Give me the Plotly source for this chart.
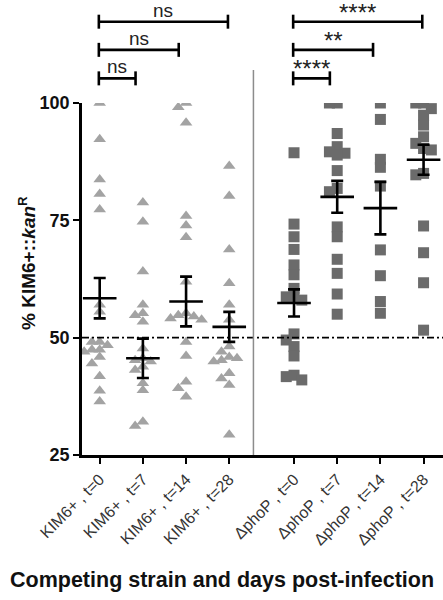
import plotly.graph_objects as go

# ---------------- data ----------------
categories = ["KIM6+ , t=0", "KIM6+ , t=7", "KIM6+ , t=14", "KIM6+ , t=28",
              "\u0394phoP , t=0", "\u0394phoP , t=7", "\u0394phoP , t=14", "\u0394phoP , t=28"]

kim_t0 = [100, 92.3, 83.7, 80.6, 77.3, 57.0, 55.5, 49.1, 49.1, 48.4, 47.4, 47.0, 47.4, 45.9, 44.5, 41.8, 38.7, 36.4]
kim_t7 = [78.8, 74.7, 64.1, 57.0, 55.2, 54.8, 53.4, 47.7, 45.6, 45.2, 44.9, 43.8, 43.1, 40.3, 38.8, 32.1, 31.2]
kim_t14 = [100, 99.1, 95.8, 75.9, 73.9, 71.4, 61.9, 55.2, 54.8, 54.5, 54.1, 53.8, 49.1, 46.1, 40.6, 39.2, 37.4]
kim_t28 = [86.6, 80.2, 68.8, 61.6, 57.0, 53.8, 48.1, 47.0, 45.9, 45.6, 45.2, 44.9, 42.4, 41.3, 39.9, 29.3]
pho_t0 = [89.4, 74.2, 71.5, 68.8, 65.5, 63.4, 60.5, 58.7, 58.7, 58.0, 50.8, 49.5, 48.1, 46.1, 42.0, 41.7, 41.0]
pho_t7 = [100, 100, 93.5, 90.7, 89.3, 89.6, 88.9, 85.6, 81.8, 81.1, 73.6, 71.5, 66.7, 63.7, 59.3, 55.0]
pho_t14 = [100, 96.5, 88.0, 86.3, 82.3, 68.7, 63.2, 57.7, 55.2]
pho_t28 = [100, 100, 98.8, 97.4, 95.3, 92.8, 91.4, 90.0, 90.3, 84.7, 85.0, 73.8, 68.1, 61.7, 51.6]

series = [kim_t0, kim_t7, kim_t14, kim_t28, pho_t0, pho_t7, pho_t14, pho_t28]

means = [58.4, 45.6, 57.7, 52.3, 57.4, 80.0, 77.6, 87.9]
sems = [4.3, 4.2, 5.3, 3.2, 2.9, 3.4, 5.6, 3.2]

ref_line = 50
y_ticks = [25, 50, 75, 100]

# comparisons: (from category, to category, label)
comparisons = [(0, 1, "ns"), (0, 2, "ns"), (0, 3, "ns"),
               (4, 5, "****"), (4, 6, "**"), (4, 7, "****")]

# ---------------- layout helpers ----------------
W, H = 443, 600
ML, MR, MT, MB = 82, 0, 103, 145
XR = [-0.41, 7.95]
YR = [25, 100]
PW, PH = W - ML - MR, H - MT - MB
px_per_x = PW / (XR[1] - XR[0])
px_per_y = PH / (YR[1] - YR[0])

# category positions: gap of half a slot between the two strains
pos = [i if i < 4 else i + 0.5 for i in range(len(categories))]


def swarm(vals, center, step=0.18, mind=7.0, maxk=2):
    placed = []
    xs = [None] * len(vals)
    order = sorted(range(len(vals)), key=lambda k: -vals[k])
    for k in order:
        v = vals[k]
        best, best_d = 0.0, -1
        for j in range(0, 2 * maxk + 1):
            m = (j + 1) // 2 * (-1 if j % 2 else 1)
            dx = m * step
            dmin = 1e9
            for (px, py) in placed:
                ddx = (dx - px) * px_per_x
                ddy = (v - py) * px_per_y
                dmin = min(dmin, (ddx * ddx + ddy * ddy) ** 0.5)
            if dmin >= mind:
                best = dx
                break
            if dmin > best_d:
                best, best_d = dx, dmin
        placed.append((best, v))
        xs[k] = center + best
    return xs


fig = go.Figure()

for i, vals in enumerate(series):
    kim = i < 4
    fig.add_trace(go.Scatter(
        x=swarm(vals, pos[i]), y=vals, mode="markers",
        marker=dict(symbol="triangle-up" if kim else "square",
                    size=11,
                    color="#a3a3a3" if kim else "#6b6b6b",
                    line=dict(width=0)),
        showlegend=False, hoverinfo="y"))

fig.add_trace(go.Scatter(
    x=pos, y=means, mode="markers",
    marker=dict(symbol="line-ew", size=24, line=dict(width=2.6, color="black"), color="black"),
    error_y=dict(type="data", array=sems, visible=True, width=6, thickness=2.6, color="black"),
    showlegend=False, hoverinfo="y"))

shapes = []
# reference line at 50
shapes.append(dict(type="line", xref="paper", yref="y", x0=0, x1=1, y0=ref_line, y1=ref_line,
                   line=dict(color="black", width=1.6, dash="7px,3px,2px,3px"), layer="above"))
# divider between strains
div_x = (pos[3] + pos[4]) / 2 - 0.19
shapes.append(dict(type="line", xref="x", yref="paper", x0=div_x, x1=div_x, y0=0, y1=1.094,
                   line=dict(color="#8c8c8c", width=1.5)))

annotations = []
levels = {1: 1.070, 2: 1.151, 3: 1.231}
tick_half = 7 / PH
for a, b, lab in comparisons:
    span = b - a
    lvl = levels[span]
    x0 = pos[a] - 0.02
    x1 = pos[b] - (0.03 if span == 3 else 0.17)
    shapes.append(dict(type="line", xref="x", yref="paper", x0=x0, x1=x1, y0=lvl, y1=lvl,
                       line=dict(color="black", width=2.6)))
    for xx in (x0, x1):
        shapes.append(dict(type="line", xref="x", yref="paper", x0=xx, x1=xx,
                           y0=lvl - tick_half, y1=lvl + tick_half,
                           line=dict(color="black", width=2.6)))
    is_star = "*" in lab
    annotations.append(dict(
        x=(x0 + x1) / 2, y=lvl + (-1 if not is_star else -6) / PH,
        xref="x", yref="paper", text=lab, showarrow=False,
        xanchor="center", yanchor="bottom",
        font=dict(size=19 if not is_star else 24, color="#222",
                  family="Liberation Sans, Arial, sans-serif")))

# x-axis title (centred on the whole figure)
annotations.append(dict(
    x=(222 - ML) / PW, y=(H - MB - 580) / PH,
    xref="paper", yref="paper", text="<b>Competing strain and days post-infection</b>",
    showarrow=False, xanchor="center", yanchor="middle",
    font=dict(size=21.5, color="#111", family="Liberation Sans, Arial, sans-serif")))

# y-axis title
annotations.append(dict(
    x=(27 - ML) / PW, y=(H - MB - 263) / PH,
    xref="paper", yref="paper", text="<b>% KIM6+::<i>kan</i><sup>R</sup></b>",
    showarrow=False, xanchor="center", yanchor="middle", textangle=-90,
    font=dict(size=19, color="#111", family="Liberation Sans, Arial, sans-serif")))

fig.update_layout(
    width=W, height=H,
    margin=dict(l=ML, r=MR, t=MT, b=MB, pad=0),
    plot_bgcolor="white", paper_bgcolor="white",
    font=dict(family="Liberation Sans, Arial, sans-serif", color="#111"),
    shapes=shapes, annotations=annotations,
    xaxis=dict(range=XR, tickvals=pos, ticktext=categories, tickangle=-45,
               showgrid=False, zeroline=False, showline=True, linecolor="black",
               linewidth=2.6, ticks="outside", ticklen=6, tickwidth=2.4, tickcolor="black",
               tickfont=dict(size=16, color="#333"), automargin=False),
    yaxis=dict(range=YR, tickvals=y_ticks, showgrid=False, zeroline=False,
               showline=True, linecolor="black", linewidth=2.6,
               ticks="outside", ticklen=6, tickwidth=2.4, tickcolor="black",
               tickfont=dict(size=18, color="#111", weight="bold"), automargin=False),
)

fig.write_html("out.html", config={"displayModeBar": False},
               post_script="document.body.style.margin='0';")
